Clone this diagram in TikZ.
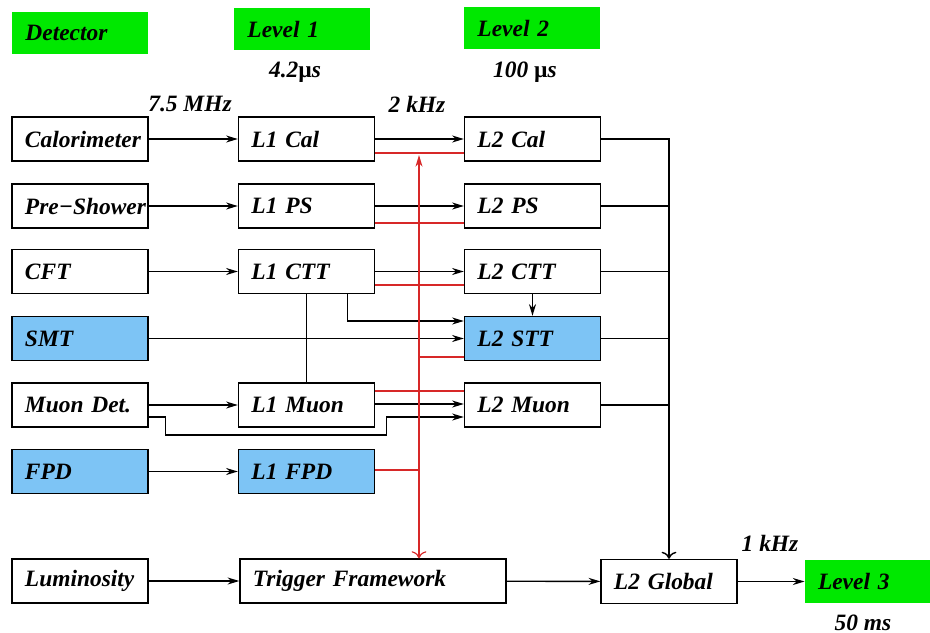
\documentclass[tikz,border=0pt]{standalone}
\usepackage{fontspec}
\setmainfont{Liberation Serif}
\usetikzlibrary{arrows.meta,calc}

\definecolor{hdrgreen}{RGB}{0,232,0}
\definecolor{detblue}{RGB}{125,196,245}
\definecolor{trigred}{RGB}{215,40,40}

\begin{document}
\begin{tikzpicture}[x=0.015cm,y=-0.015cm,
    every node/.style={font=\fontsize{10}{12}\selectfont\bfseries\itshape},
    box/.style={draw, line width=0.6pt, minimum height=0.66cm, inner xsep=0.195cm, text width=#1, align=left},
    box/.default=1.65cm,
    hdr/.style={fill=hdrgreen, minimum height=0.64cm, inner xsep=0.195cm, text width=#1, align=left},
    hdr/.default=1.635cm,
    arr/.style={line width=0.6pt, -{Stealth[length=5pt,width=3pt]}},
    wire/.style={line width=0.6pt},
    trig/.style={trigred, line width=0.5pt}]
    \useasboundingbox (0,0) rectangle (930,633);

    % Headers
    \node[hdr] (hdet) at (80,33) {Detector};
    \node[hdr] (hlv1) at (302,29) {Level 1};
    \node[hdr] (hlv2) at (532,28) {Level 2};
    \node (lat1) at (295,72) {4.2{\upshape µ}s};
    \node (lat2) at (525,72) {100 {\upshape µ}s};

    % Rates
    \node (rate1) at (190,104) {7.5 MHz};
    \node (rate2) at (417,104) {2 kHz};
    \node (rate3) at (770,543) {1 kHz};

    % Detector column
    \node[box] (cal) at (80,139) {Calorimeter};
    \node[box] (ps) at (80,206) {Pre−Shower};
    \node[box] (cft) at (80,271.5) {CFT};
    \node[box,fill=detblue] (smt) at (80,338.5) {SMT};
    \node[box] (muon) at (80,405) {Muon Det.};
    \node[box,fill=detblue] (fpd) at (80,471.5) {FPD};
    \node[box] (lum) at (80,581) {Luminosity};

    % Level 1 column
    \node[box] (l1cal) at (306.5,139) {L1 Cal};
    \node[box] (l1ps) at (306.5,206) {L1 PS};
    \node[box] (l1ctt) at (306.5,271.5) {L1 CTT};
    \node[box] (l1muon) at (306.5,405) {L1 Muon};
    \node[box,fill=detblue] (l1fpd) at (306.5,471.5) {L1 FPD};
    \node[box=3.6cm] (tf) at (373,581) {Trigger Framework};

    % Level 2 column
    \node[box] (l2cal) at (532.5,139) {L2 Cal};
    \node[box] (l2ps) at (532.5,206) {L2 PS};
    \node[box] (l2ctt) at (532.5,271.5) {L2 CTT};
    \node[box,fill=detblue] (l2stt) at (532.5,338.5) {L2 STT};
    \node[box] (l2muon) at (532.5,405) {L2 Muon};
    \node[box] (l2gl) at (669,581.5) {L2 Global};

    % Level 3
    \node[hdr=1.485cm] (hlv3) at (867.5,581.5) {Level 3};
    \node (lat3) at (863,623) {50 ms};

    % Detector to Level 1
    \draw[arr] (cal) -- (l1cal);
    \draw[arr] (ps) -- (l1ps);
    \draw[arr] (cft) -- (l1ctt);
    \draw[arr] (muon) -- (l1muon);
    \draw[arr] (fpd) -- (l1fpd);
    \draw[arr] (lum) -- (tf);
    \draw[arr] (smt) -- (l2stt);

    % Level 1 to Level 2
    \draw[arr] (l1cal) -- (l2cal);
    \draw[arr] (l1ps) -- (l2ps);
    \draw[arr] (l1ctt) -- (l2ctt);
    \draw[arr] ($(l1muon.east)+(0,-1)$) -- ($(l2muon.west)+(0,-1)$);
    \draw[arr] ($(l1ctt.south)+(41,0)$) |- ($(l2stt.west)+(0,-17.5)$);
    \draw[arr] (l2ctt) -- (l2stt);
    \draw[wire] (l1ctt.south) -- (l1muon.north);
    \draw[arr] ($(muon.east)+(0,12)$) -- ++(17,0) -- ++(0,18) -| ($(l2muon.west)+(-77,12)$) -- ($(l2muon.west)+(0,12)$);

    % Trigger Framework
    \coordinate (rtop) at (419,155);
    \draw[trig,{Stealth[length=5pt,width=3pt]}-{To[length=3pt]}] (rtop) -- (rtop |- tf.north);
    \draw[trig] ($(l1cal.east)+(0,14)$) -- ($(l2cal.west)+(0,14)$);
    \draw[trig] ($(l1ps.east)+(0,17)$) -- ($(l2ps.west)+(0,17)$);
    \draw[trig] ($(l1ctt.east)+(0,13.5)$) -- ($(l2ctt.west)+(0,13.5)$);
    \draw[trig] ($(l2stt.west)+(0,18.5)$) -- ($(l2stt.west)+(-46,18.5)$);
    \draw[trig] ($(l1muon.east)+(0,-14)$) -- ($(l2muon.west)+(0,-14)$);
    \draw[trig] ($(l1fpd.east)+(0,-1.5)$) -- ($(l1fpd.east)+(44,-1.5)$);

    % Level 2 to Global
    \draw[wire,-{To[length=3pt]}] (l2cal.east) -| (l2gl.north);
    \draw[wire] (l2ps.east) -- (l2ps.east -| l2gl.north);
    \draw[wire] (l2ctt.east) -- (l2ctt.east -| l2gl.north);
    \draw[wire] (l2stt.east) -- (l2stt.east -| l2gl.north);
    \draw[wire] (l2muon.east) -- (l2muon.east -| l2gl.north);
    \draw[arr] (tf) -- (l2gl);
    \draw[arr] (l2gl) -- (hlv3);
\end{tikzpicture}
\end{document}
